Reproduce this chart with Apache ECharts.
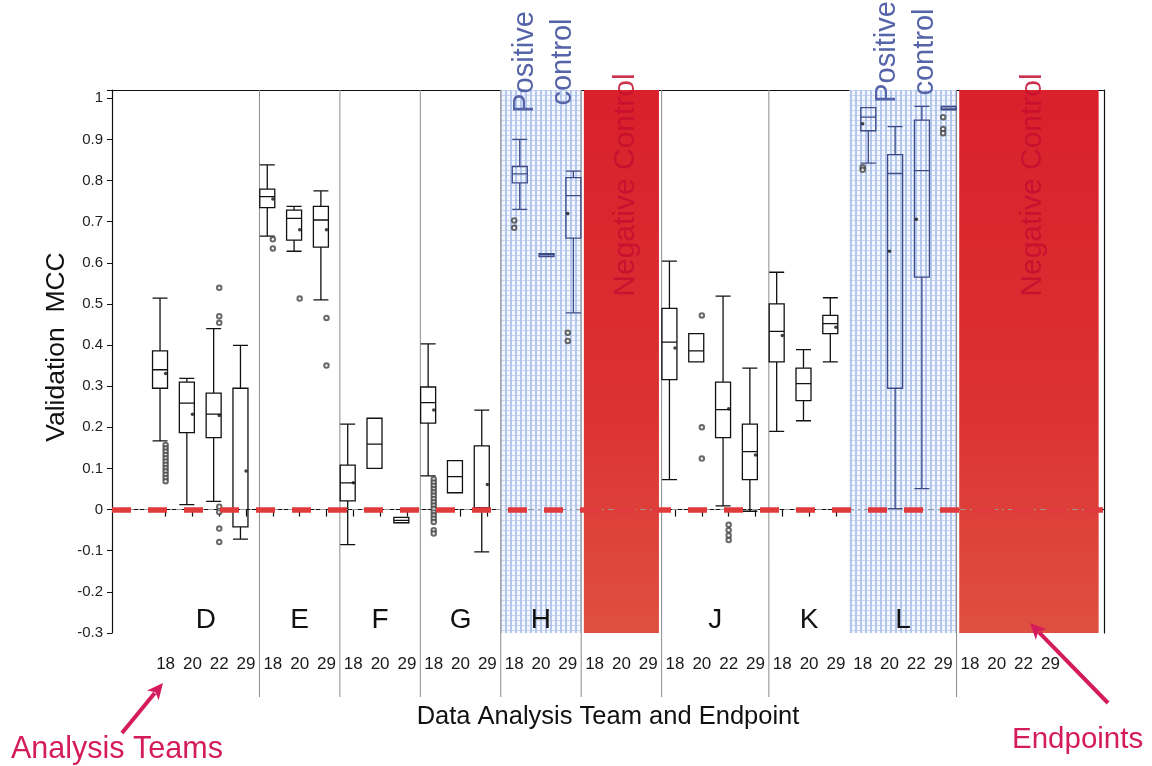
<!DOCTYPE html>
<html><head><meta charset="utf-8">
<script src="https://cdn.jsdelivr.net/npm/echarts@6/dist/echarts.min.js"></script>
<style>html,body{margin:0;padding:0;background:#fff}#c{width:1152px;height:766px}</style>
</head><body><div id="c"></div>
<script>
// ---------------- data ----------------
const teams = ['D','E','F','G','H','I','J','K','L','M'];
const teamRole = ['team','team','team','team','positive','negative','team','team','positive','negative'];
const teamEndpoints = [
  [18,20,22,29],[18,20,29],[18,20,29],[18,20,29],[18,20,29],
  [18,20,29],[18,20,22,29],[18,20,29],[18,20,22,29],[18,20,22,29]
];
// [min, Q1, median, Q3, max] per category in order (null = no box)
const boxStats = [
  [0.167,0.295,0.340,0.386,0.514],   // D18
  [0.012,0.187,0.259,0.310,0.319],   // D20
  [0.020,0.175,0.232,0.283,0.440],   // D22
  [-0.072,-0.042,-0.042,0.295,0.399],// D29
  [0.665,0.734,0.761,0.779,0.838],   // E18
  [0.628,0.655,0.708,0.728,0.737],   // E20
  [0.510,0.638,0.704,0.737,0.775],   // E29
  [-0.085,0.021,0.065,0.108,0.208],  // F18
  [0.100,0.100,0.159,0.222,0.222],   // F20
  [-0.032,-0.032,-0.026,-0.019,-0.019], // F29
  [0.082,0.210,0.260,0.298,0.403],   // G18
  [0.041,0.041,0.080,0.119,0.119],   // G20
  [-0.103,0.005,0.005,0.155,0.242],  // G29
  [0.730,0.794,0.816,0.834,0.900],   // H18
  [0.615,0.615,0.619,0.622,0.622],   // H20
  [0.478,0.660,0.763,0.807,0.823],   // H29
  null, null, null,                  // I (negative control)
  [0.073,0.316,0.407,0.489,0.604],   // J18
  [0.359,0.359,0.386,0.428,0.428],   // J20
  [0.009,0.175,0.243,0.310,0.519],   // J22
  [-0.004,0.073,0.141,0.208,0.344],  // J29
  [0.190,0.359,0.433,0.500,0.577],   // K18
  [0.216,0.265,0.306,0.344,0.389],   // K20
  [0.359,0.428,0.452,0.472,0.515],   // K29
  [0.842,0.921,0.954,0.977,0.977],   // L18
  [0.002,0.295,0.817,0.863,0.931],   // L20
  [0.051,0.565,0.824,0.947,0.980],   // L22
  [0.972,0.972,0.976,0.980,0.980],   // L29
  null, null, null, null             // M (negative control)
];
const means = [
  0.331,0.232,0.229,0.094, 0.755,0.680,0.680, 0.065,null,null, 0.242,null,0.061,
  null,null,0.720, null,null,null, 0.393,null,0.245,0.133, 0.423,null,0.443,
  0.938,0.628,0.706,null, null,null,null,null
];
const outliers = [
  ['D 18',[0.157,0.149,0.141,0.133,0.125,0.117,0.109,0.101,0.093,0.085,0.077,0.069]],
  ['D 22',[0.539,0.470,0.454,0.007,-0.006,-0.046,-0.079]],
  ['E 18',[0.657,0.635]],
  ['E 20',[0.513]],
  ['E 29',[0.466,0.350]],
  ['G 18',[0.074,0.066,0.058,0.050,0.042,0.034,0.026,0.018,0.010,0.002,-0.006,-0.014,-0.022,-0.030,-0.050,-0.058]],
  ['H 18',[0.703,0.685]],
  ['H 29',[0.430,0.410]],
  ['J 20',[0.472,0.200,0.124]],
  ['J 22',[-0.037,-0.050,-0.063,-0.074]],
  ['L 18',[0.832,0.826]],
  ['L 29',[0.954,0.925,0.915]]
];
const yMin = -0.3, yMax = 1.02, yStep = 0.1;
const dividerAfter = [true,true,true,true,true,true,true,false,true];

// ---------------- build ----------------
const categories = [];
const catTeam = [];
teams.forEach((t,gi)=>teamEndpoints[gi].forEach(e=>{categories.push(t+' '+e); catTeam.push(gi);}));
const axisCats = ['_a','_b'].concat(categories, ['_c','_d']);
const PAD = 2;
const xMax = axisCats.length - 1;

const boxBlack = [], boxBlue = [];
categories.forEach((c,i)=>{
  const b = boxStats[i]; if (!b) return;
  const row = [c].concat(b);
  (teamRole[catTeam[i]]==='positive' ? boxBlue : boxBlack).push(row);
});
const meanData = [];
categories.forEach((c,i)=>{ if (means[i]!=null) meanData.push([c, means[i]]); });
const outData = [];
outliers.forEach(([c,vals])=>vals.forEach(v=>outData.push([c,v])));

const groupRange = [];
let off = PAD;
teams.forEach((t,gi)=>{ const n = teamEndpoints[gi].length; groupRange.push([off, off+n-1]); off += n; });

// pattern for positive control
const pc = document.createElement('canvas'); pc.width = 5; pc.height = 5;
const pctx = pc.getContext('2d');
pctx.fillStyle = '#f4f7fd'; pctx.fillRect(0,0,5,5);
pctx.fillStyle = 'rgba(168,190,232,0.85)'; pctx.fillRect(0,0,2,5);
pctx.fillStyle = 'rgba(178,198,236,0.7)'; pctx.fillRect(0,0,5,1);
const bluePattern = {image: pc, repeat: 'repeat'};
const redFill = {type:'linear',x:0,y:0,x2:0,y2:1,colorStops:[
  {offset:0,color:'#d9202c'},{offset:0.6,color:'#dc3232'},{offset:1,color:'#df5040'}]};

const areas = [];
teams.forEach((t,gi)=>{
  const r = teamRole[gi]; if (r==='team') return;
  let x0 = groupRange[gi][0]-0.5, x1 = groupRange[gi][1]+0.5;
  if (r==='negative') { x0 += 0.1; x1 -= 0.1; if (gi===teams.length-1) x1 = xMax-0.2; }
  areas.push([{xAxis:x0, itemStyle:{color: r==='positive'?bluePattern:redFill}},{xAxis:x1}]);
});

const FONT = 'Liberation Sans, Arial, sans-serif';
const chart = echarts.init(document.getElementById('c'), null, {renderer:'canvas'});
const option = {
  animation:false,
  backgroundColor:'#fff',
  grid:{left:112,right:48,top:90,bottom:133},
  xAxis:[{
    type:'category', data:axisCats, boundaryGap:false, position:'bottom',
    axisLine:{lineStyle:{color:'#111',width:1.2}},
    axisTick:{length:7,lineStyle:{color:'#111',width:1.2},interval:(i,v)=>!String(v).startsWith('_')},
    axisLabel:{interval:0,margin:23,fontSize:17,color:'#1a1a1a',fontFamily:FONT,
      formatter:v=>v.startsWith('_')?'':v.split(' ')[1]},
    splitLine:{show:false},
    name:'Data Analysis Team and Endpoint', nameLocation:'middle', nameGap:71,
    nameTextStyle:{fontSize:25.5,color:'#111',fontFamily:FONT}
  },{
    type:'value', min:0, max:xMax, position:'top',
    axisLine:{show:true,onZero:false,lineStyle:{color:'#111',width:1.2}},
    axisTick:{show:false}, axisLabel:{show:false}, splitLine:{show:false}
  }],
  yAxis:[{
    type:'value', min:yMin, max:yMax, interval:yStep,
    axisLine:{show:true,lineStyle:{color:'#111',width:1.2}},
    axisTick:{show:true,length:5,lineStyle:{color:'#111'}},
    axisLabel:{fontSize:15,color:'#222',fontFamily:FONT,margin:9,
      formatter:v=> v>1.005 ? '' : String(Math.round(v*10)/10)},
    splitLine:{show:false}
  },{
    type:'value', min:yMin, max:yMax, position:'right',
    axisLine:{show:true,lineStyle:{color:'#111',width:1.2}},
    axisTick:{show:false}, axisLabel:{show:false}, splitLine:{show:false}
  }],
  series:[
    {type:'scatter', xAxisIndex:1, yAxisIndex:0, data:[], z:1, silent:true,
      markArea:{silent:true, data:areas}},
    {type:'boxplot', name:'teams', xAxisIndex:0, yAxisIndex:0, data:boxBlack,
      encode:{x:0,y:[1,2,3,4,5]}, boxWidth:[15,15], z:3,
      itemStyle:{color:'rgba(0,0,0,0)',borderColor:'#111',borderWidth:1.3}},
    {type:'boxplot', name:'positive', xAxisIndex:0, yAxisIndex:0, data:boxBlue,
      encode:{x:0,y:[1,2,3,4,5]}, boxWidth:[15,15], z:3,
      itemStyle:{color:'rgba(0,0,0,0)',borderColor:'#3d4a88',borderWidth:1.3}},
    {type:'scatter', name:'outliers', xAxisIndex:0, yAxisIndex:0, data:outData, z:4,
      symbol:'emptyCircle', symbolSize:4.5, itemStyle:{color:'#444',borderWidth:0.9}},
    {type:'scatter', name:'mean', xAxisIndex:0, yAxisIndex:0, data:meanData, z:4,
      symbol:'circle', symbolSize:3.5, itemStyle:{color:'#111'}},
    {type:'scatter', xAxisIndex:1, yAxisIndex:0, data:[], z:5, silent:true,
      markLine:{silent:true, symbol:'none', label:{show:false},
        data:[
          {yAxis:0, lineStyle:{color:'#999',width:1,type:[6,4,2,4]}},
          {yAxis:0, lineStyle:{color:'#e03a3c',width:5.5,type:[19,17]}}
        ]}}
  ]
};
chart.setOption(option);

// ---------------- annotations ----------------
const px = v => chart.convertToPixel({xAxisIndex:1}, v);
const py = v => chart.convertToPixel({yAxisIndex:0}, v);
const g = [];
const yTop = py(yMax), yBot = py(yMin);
for (let gi=0; gi<teams.length-1; gi++) {
  if (!dividerAfter[gi]) continue;
  const xb = px(groupRange[gi][1]+0.5);
  g.push({type:'line', z:2, silent:true, shape:{x1:xb,y1:yTop,x2:xb,y2:yBot+64},
    style:{stroke:'#8c8c8c',lineWidth:1}});
}
teams.forEach((t,gi)=>{
  const c = (groupRange[gi][0]+groupRange[gi][1])/2;
  const r = teamRole[gi];
  if (r!=='negative') {
    g.push({type:'text', z:50, silent:true, x:px(c), y:py(-0.268),
      style:{text:t, font:'28px '+FONT, fill:'#111', textAlign:'center', textVerticalAlign:'middle'}});
  }
  if (r==='positive') {
    const x0 = px(groupRange[gi][0]-0.5), x1 = px(groupRange[gi][1]+0.5);
    g.push({type:'text', z:60, silent:true, x:(x0+x1)/2+3, y: gi<5 ? 62 : 52, rotation:Math.PI/2,
      style:{text:'Positive\ncontrol', font:'29px '+FONT, fill:'#5563a8', textAlign:'center',
        textVerticalAlign:'middle', lineHeight:38}});
  }
  if (r==='negative') {
    let x0 = groupRange[gi][0]-0.4, x1 = groupRange[gi][1]+0.4;
    if (gi===teams.length-1) x1 = xMax-0.2;
    g.push({type:'text', z:60, silent:true, x:(px(x0)+px(x1))/2+4, y:185, rotation:Math.PI/2,
      style:{text:'Negative Control', font:'30px '+FONT, fill:'rgba(196,14,48,0.85)', textAlign:'center',
        textVerticalAlign:'middle'}});
  }
});
g.push({type:'text', z:50, silent:true, x:57, y:347, rotation:Math.PI/2,
  style:{text:'Validation  MCC', font:'26.5px '+FONT, fill:'#111', textAlign:'center', textVerticalAlign:'middle'}});

const MAG = '#d41c5c';
function arrow(x1,y1,x2,y2){
  const a = Math.atan2(y2-y1,x2-x1), L=16, W=7.5;
  const bx = x2-L*Math.cos(a), by = y2-L*Math.sin(a);
  g.push({type:'line', z:70, silent:true, shape:{x1,y1,x2:bx+3*Math.cos(a),y2:by+3*Math.sin(a)}, style:{stroke:MAG,lineWidth:4}});
  g.push({type:'polygon', z:70, silent:true, shape:{points:[[x2,y2],
    [bx-W*Math.sin(a),by+W*Math.cos(a)],[bx+4*Math.cos(a),by+4*Math.sin(a)],[bx+W*Math.sin(a),by-W*Math.cos(a)]]},
    style:{fill:MAG}});
}
arrow(122,733,163,683);
arrow(1108,703,1030,623);
g.push({type:'text', z:70, silent:true, x:11, y:750,
  style:{text:'Analysis Teams', font:'30.5px '+FONT, fill:MAG, textAlign:'left', textVerticalAlign:'middle'}});
g.push({type:'text', z:70, silent:true, x:1012, y:740,
  style:{text:'Endpoints', font:'29.5px '+FONT, fill:MAG, textAlign:'left', textVerticalAlign:'middle'}});

chart.setOption({graphic:g});
</script>
</body></html>
